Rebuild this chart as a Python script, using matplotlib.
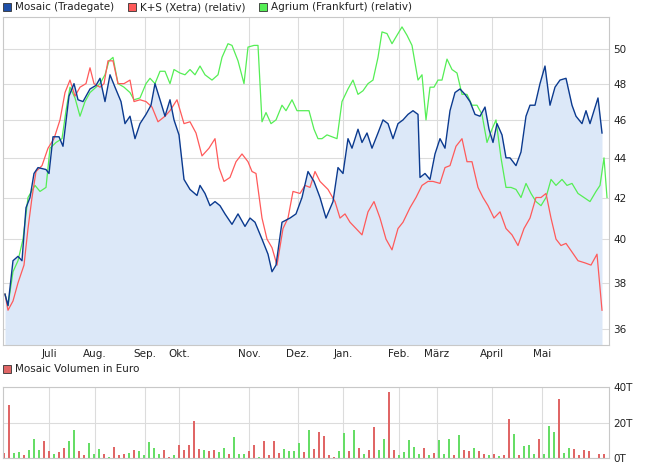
import matplotlib
matplotlib.use("Agg")
import matplotlib.pyplot as plt
from matplotlib.ticker import FixedLocator, NullLocator, NullFormatter

# x in chart days (0 = left edge)
months = ["Juli", "Aug.", "Sep.", "Okt.", "Nov.", "Dez.", "Jan.", "Feb.", "März", "April", "Mai"]
month_pos = [46, 92, 142, 176, 246, 295, 340, 396, 434, 489, 539]

mos_x = [2, 5, 10, 15, 19, 23, 27, 31, 35, 43, 46, 50, 56, 60, 66, 71, 75, 80, 87, 93, 97, 102, 107, 112,
         118, 122, 127, 132, 137, 143, 148, 152, 157, 162, 167, 171, 176, 181, 187, 194, 197, 202,
         207, 212, 217, 222, 229, 235, 242, 247, 252, 259, 265, 269, 273, 279, 287, 293, 299, 305,
         311, 317, 323, 330, 335, 340, 345, 349, 355, 359, 364, 369, 375, 380, 385, 390, 395, 400,
         405, 410, 415, 417, 422, 427, 432, 437, 442, 447, 452, 457, 462, 467, 472, 477, 482, 486,
         490, 494, 499, 503, 507, 513, 518, 523, 527, 532, 537, 542, 547, 552, 557, 563, 569, 573,
         579, 583, 587, 591, 595, 599, 603]
mos_y = [37.5, 37.0, 39.0, 39.2, 39.0, 41.5, 42.0, 43.2, 43.5, 43.4, 43.2, 45.1, 45.1, 44.6, 47.3,
         48.0, 47.1, 47.0, 47.7, 47.9, 48.3, 47.0, 48.5, 47.8, 47.0, 45.8, 46.2, 45.0, 45.8, 46.3,
         46.8, 48.0, 47.1, 46.2, 47.1, 46.0, 45.2, 42.9, 42.4, 42.1, 42.6, 42.2, 41.6, 41.8, 41.6,
         41.2, 40.7, 41.2, 40.6, 41.0, 40.8, 40.0, 39.3, 38.5, 38.8, 40.8, 41.0, 41.2, 42.0, 43.3,
         42.8, 42.0, 41.0, 41.8, 43.5, 43.2, 45.0, 44.5, 45.5, 44.8, 45.3, 44.5, 45.3, 46.0, 45.8,
         45.0, 45.8, 46.0, 46.3, 46.5, 46.3, 43.0, 43.2, 42.9, 44.2, 45.0, 44.5, 46.5, 47.5, 47.7,
         47.4, 47.0, 46.3, 46.2, 46.7, 45.5, 44.8, 45.8, 45.2, 44.0, 44.0, 43.6, 44.3, 46.2, 46.8,
         46.8, 48.0, 49.0, 46.8, 47.8, 48.2, 48.3, 46.8, 46.2, 45.8, 46.5, 45.8, 46.5, 47.2, 45.3]

ks_x = [2, 5, 10, 15, 21, 25, 29, 33, 39, 45, 51, 57, 62, 67, 72, 77, 83, 87, 91, 97, 101, 105, 110,
        115, 121, 127, 131, 137, 143, 149, 155, 162, 167, 174, 181, 187, 193, 199, 206, 212, 216,
        221, 227, 233, 239, 245, 249, 253, 259, 264, 269, 274, 280, 285, 290, 297, 302, 307, 312,
        317, 325, 332, 337, 342, 347, 353, 359, 365, 371, 377, 383, 389, 395, 400, 407, 413, 419,
        425, 430, 437, 442, 447, 453, 459, 464, 469, 475, 480, 485, 491, 497, 503, 509, 515, 521,
        527, 533, 538, 543, 548, 553, 558, 563, 569, 575, 582, 588, 594, 599, 603]
ks_y = [37.5, 36.8, 37.2, 38.0, 38.8, 40.5, 42.0, 43.3, 43.6, 44.5, 45.0, 46.0, 47.5, 48.2, 47.3,
        47.8, 48.0, 48.9, 48.0, 47.8, 48.0, 49.3, 49.3, 48.0, 48.0, 48.2, 47.0, 47.1, 47.0, 46.7,
        45.9, 46.2, 46.5, 47.1, 45.8, 45.9, 45.3, 44.1, 44.5, 45.0, 43.5, 42.8, 43.0, 43.8, 44.2,
        43.8, 43.3, 43.2, 41.0, 40.0, 39.6, 38.8, 40.5, 41.0, 42.3, 42.2, 42.6, 42.5, 43.3, 42.8,
        42.4, 41.8, 41.0, 41.2, 40.8, 40.5, 40.2, 41.3, 41.8, 41.0, 40.0, 39.5, 40.5, 40.8, 41.5,
        42.0, 42.6, 42.8, 42.8, 42.7, 43.5, 43.6, 44.6, 45.0, 43.8, 43.8, 42.5, 42.0, 41.6, 41.0,
        41.3, 40.5, 40.2, 39.7, 40.5, 41.0, 42.0, 42.0, 42.2, 41.0, 40.0, 39.7, 39.8, 39.4, 39.0,
        38.9, 38.8, 39.3, 36.8]

ag_x = [2, 5, 10, 15, 20, 25, 32, 37, 43, 47, 53, 59, 63, 67, 72, 77, 82, 87, 93, 97, 102, 106, 110,
        115, 121, 127, 131, 137, 143, 147, 152, 157, 162, 167, 171, 177, 182, 187, 192, 197, 202,
        209, 215, 219, 225, 229, 235, 241, 245, 251, 255, 259, 263, 268, 273, 279, 283, 289, 294,
        300, 306, 311, 315, 319, 324, 329, 334, 339, 345, 350, 355, 360, 365, 370, 375, 379, 384,
        389, 394, 399, 404, 409, 415, 419, 423, 427, 431, 435, 439, 444, 449, 454, 459, 464, 469,
        474, 479, 484, 489, 493, 498, 503, 508, 513, 518, 523, 528, 533, 538, 543, 548, 553, 559,
        564, 569, 575, 581, 587, 593, 597, 601, 604]
ag_y = [37.5, 37.0, 38.5, 39.0, 40.0, 42.0, 42.6, 42.3, 42.5, 44.5, 44.8, 45.0, 46.5, 47.8, 47.2,
        46.2, 47.0, 47.5, 47.8, 48.0, 48.5, 49.3, 49.5, 48.0, 47.8, 47.5, 47.1, 47.2, 48.0, 48.3,
        48.0, 48.7, 48.7, 48.0, 48.8, 48.6, 48.5, 48.8, 48.5, 49.0, 48.5, 48.2, 48.5, 49.5, 50.3,
        50.2, 49.3, 48.0, 50.1, 50.2, 50.2, 45.9, 46.4, 45.8, 46.0, 46.8, 46.5, 47.1, 46.5, 46.5,
        46.5, 45.5, 45.0, 45.0, 45.2, 45.1, 45.0, 47.0, 47.7, 48.2, 47.4, 47.6, 48.0, 48.2, 49.5,
        51.0, 50.9, 50.3, 50.8, 51.3, 50.8, 50.2, 48.2, 48.5, 46.0, 47.8, 47.8, 48.2, 48.2, 49.4,
        48.8, 48.6, 47.4, 47.4, 46.8, 46.8, 46.3, 44.8, 45.5, 46.0, 44.0, 42.5, 42.5, 42.4, 42.0,
        42.7, 42.2, 41.8, 41.6, 42.0, 42.9, 42.6, 42.9, 42.6, 42.7, 42.2, 42.0, 41.8, 42.3, 42.6,
        44.0, 42.0]

# volume in thousand euro, one bar per session
vol = [3, 30, 3, 3.5, 1.5, 4.5, 10.5, 4.5, 9.5, 4, 2.5, 3.5, 5.5, 9.5, 16, 4, 1.5, 8.5, 2.5, 5,
       2, 0.5, 6, 1.5, 2, 3, 4.5, 4, 1.5, 9, 5.5, 2.5, 4.5, 0.5, 1.5, 7.5, 4.5, 7.5, 21, 5,
       4.5, 4, 4.5, 3.5, 5.5, 2.5, 12, 2, 2.5, 4, 7.5, 0.5, 9.5, 1.5, 9.5, 3, 5, 4, 4, 8.5,
       3.5, 15.5, 5, 14.5, 12.5, 1.5, 0.5, 4, 14, 4, 16, 5.5, 2.5, 4.5, 17.5, 4.5, 10.5, 37, 4.5, 1.5,
       3.5, 10, 6, 2.5, 5.5, 1.5, 3, 10, 2, 10.5, 1.5, 13, 4.5, 4, 5.5, 4, 2.5, 1.5, 2.5, 1,
       1.5, 22, 13.5, 1.5, 6.5, 7.5, 2.5, 10.5, 2.5, 18, 14.5, 33, 3, 5.5, 5, 1.5, 4.5, 4, 0, 2.5, 2.5]
vol_up = ("rrggrgggrrgrrggrrgggrgrrrgrgggggrrgrrrrrgrrggrgggrrgrrrrgggg"
          "rgrrrrrggrgrgrrggrrgggggrgrgggrgrrgrrgrgrrgrgggrgggrggrrrrrrrr")

BLUE, RED, GREEN = "#0b3a8f", "#ff5a5a", "#55ee55"
GRID = "#dcdcdc"


def pair(xs, ys):
    n = min(len(xs), len(ys))
    return xs[:n], ys[:n]


fig = plt.figure(figsize=(6.54, 4.69), dpi=100)
ax = fig.add_axes([3/654, 124/469, 606/654, 328/469])
ax.set_yscale("log")
mx, my = pair(mos_x, mos_y)
ax.fill_between(mx, my, 30, color="#dce8f8", lw=0)
ax.plot(*pair(ag_x, ag_y), color=GREEN, lw=0.9)
ax.plot(*pair(ks_x, ks_y), color=RED, lw=0.9)
ax.plot(mx, my, color=BLUE, lw=1.0)
ax.set_xlim(0, 606)
ax.set_ylim(35.33, 51.9)
ax.yaxis.set_major_locator(FixedLocator([36, 38, 40, 42, 44, 46, 48, 50]))
ax.yaxis.set_minor_locator(NullLocator())
ax.yaxis.set_minor_formatter(NullFormatter())
ax.set_yticklabels(["36", "38", "40", "42", "44", "46", "48", "50"])
ax.set_xticks(month_pos)
ax.set_xticklabels(months)

vx = fig.add_axes([3/654, 11/469, 606/654, 71/469])
cols = {"r": "#e06666", "g": "#66dd66"}
vx.bar([1 + 5 * i for i in range(len(vol))], vol, width=2.6,
       color=[cols[c] for c in vol_up[:len(vol)]])
vx.set_xlim(0, 606)
vx.set_ylim(0, 40)
vx.set_yticks([0, 20, 40])
vx.set_yticklabels(["0T", "20T", "40T"])
vx.set_xticks(month_pos)
vx.set_xticklabels([])

for a in (ax, vx):
    a.grid(True, color=GRID, lw=0.8)
    a.set_axisbelow(True)
    a.yaxis.tick_right()
    a.tick_params(axis="both", length=0, labelsize=7.5, colors="#222222", pad=3)
    for s in a.spines.values():
        s.set_color("#c8c8c8")


def legend_item(x, y, color, label):
    fig.patches.append(plt.Rectangle((x / 654, 1 - (y + 4) / 469), 8 / 654, 8 / 469,
                                     transform=fig.transFigure, facecolor=color,
                                     edgecolor="#333333", lw=0.6))
    fig.text((x + 12) / 654, 1 - y / 469, label, fontsize=7.5, va="center", color="#222222")


legend_item(3, 7, "#1e4fa8", "Mosaic (Tradegate)")
legend_item(128, 7, RED, "K+S (Xetra) (relativ)")
legend_item(259, 7, GREEN, "Agrium (Frankfurt) (relativ)")
legend_item(3, 369, "#e06666", "Mosaic Volumen in Euro")

fig.savefig("out.png", dpi=100)
